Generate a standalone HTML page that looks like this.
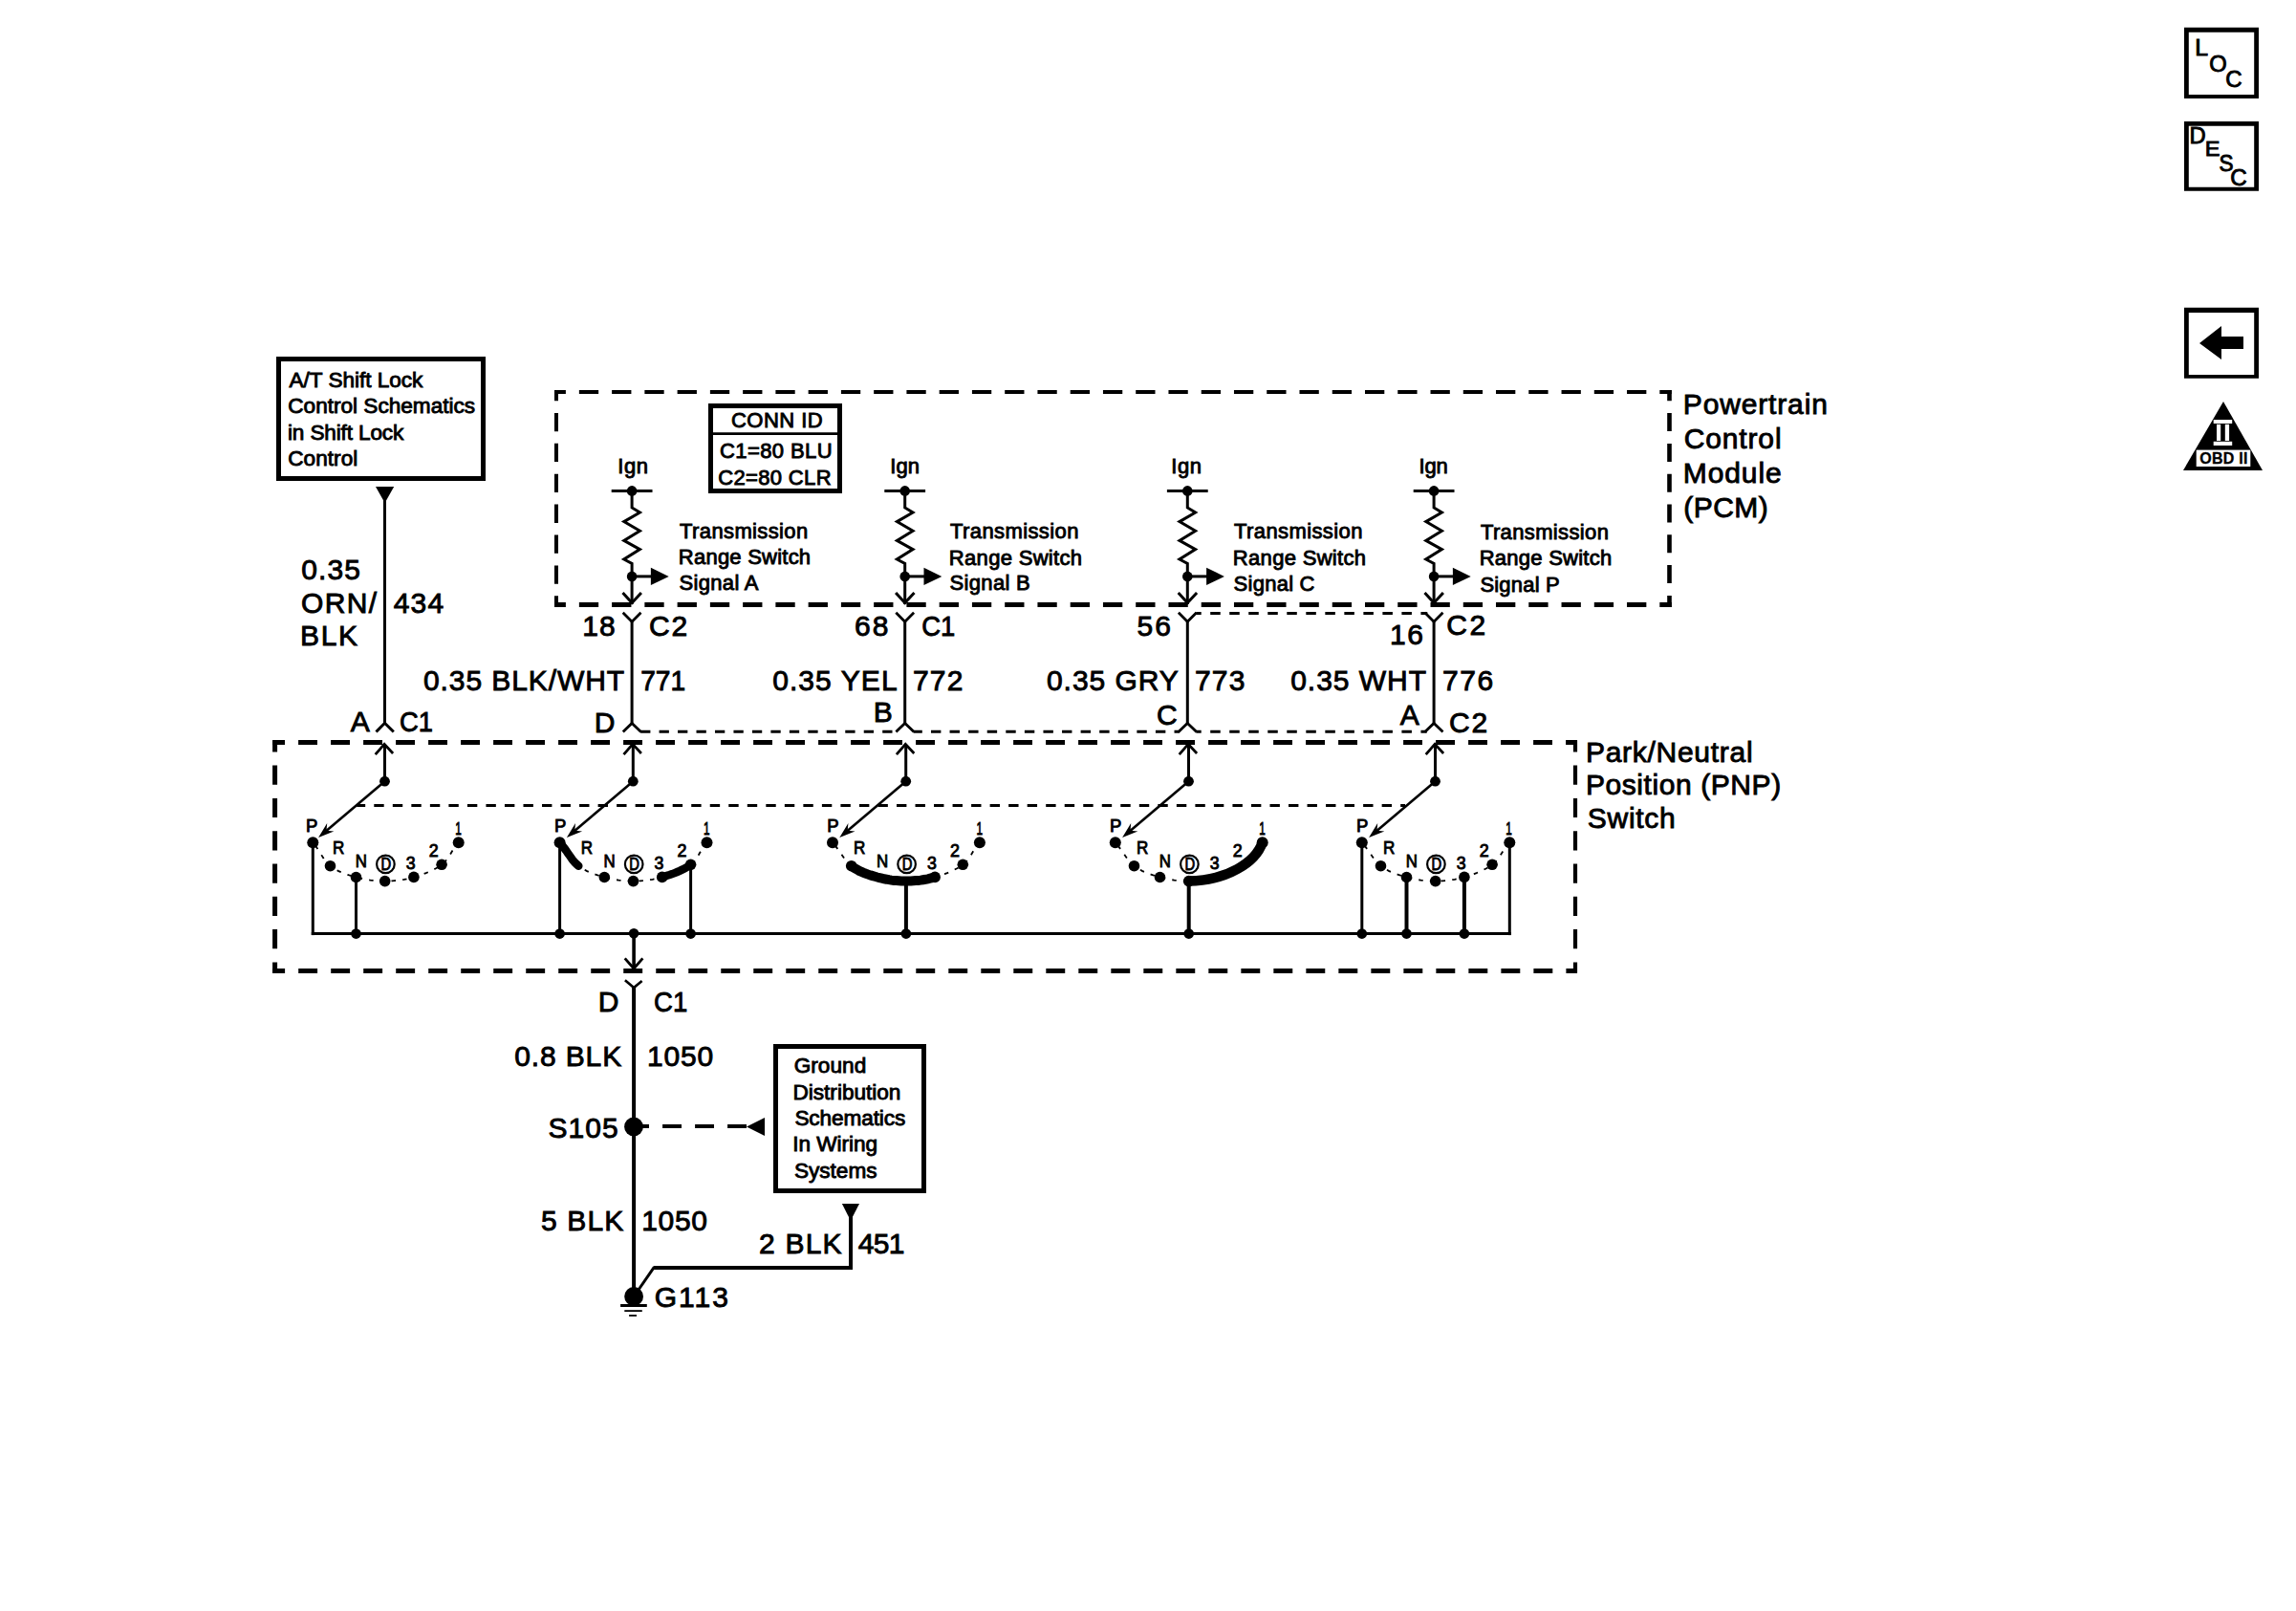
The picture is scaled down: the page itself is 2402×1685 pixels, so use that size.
<!DOCTYPE html>
<html lang="en">
<head>
<meta charset="utf-8">
<title>Park/Neutral Position Switch Schematic</title>
<style>
html,body{margin:0;padding:0;background:#fff;}
body{width:2402px;height:1685px;overflow:hidden;}
svg{display:block;}
svg text{font-family:'Liberation Sans',sans-serif;fill:#000;stroke:#000;stroke-width:0.9;}
</style>
</head>
<body>
<svg width="2402" height="1685" viewBox="0 0 2402 1685" stroke="#000" fill="none">
<path fill="#000" stroke="none" fill-rule="evenodd" d="M2285,28.8H2363V102.9H2285Z M2289.8,33.8H2358.2V99H2289.8Z"/>
<text x="2296.31" y="57.55" font-size="23.5" textLength="13.83" lengthAdjust="spacingAndGlyphs">L</text>
<text x="2311.34" y="75.25" font-size="23.5" textLength="18.44" lengthAdjust="spacingAndGlyphs">O</text>
<text x="2328.23" y="91.15" font-size="23.5" textLength="17.36" lengthAdjust="spacingAndGlyphs">C</text>
<path fill="#000" stroke="none" fill-rule="evenodd" d="M2285,127.1H2363V199.8H2285Z M2289.8,131.8H2358.2V195.7H2289.8Z"/>
<text x="2290.48" y="150.45" font-size="23.5" textLength="17.16" lengthAdjust="spacingAndGlyphs">D</text>
<text x="2306.66" y="163.35" font-size="22" textLength="15.70" lengthAdjust="spacingAndGlyphs">E</text>
<text x="2321.42" y="179.05" font-size="23.5" textLength="15.04" lengthAdjust="spacingAndGlyphs">S</text>
<text x="2333.23" y="194.05" font-size="23.5" textLength="17.47" lengthAdjust="spacingAndGlyphs">C</text>
<path fill="#000" stroke="none" fill-rule="evenodd" d="M2285,321.8H2363V395.8H2285Z M2289.8,326.9H2358.2V391.9H2289.8Z"/>
<polygon points="2301.0,359.0 2324.0,341.0 2324.0,352.0 2347.0,352.0 2347.0,365.0 2324.0,365.0 2324.0,376.0" fill="#000" stroke="none"/>
<polygon points="2326.0,420.0 2367.0,492.0 2284.0,492.0" fill="#000" stroke="none"/>
<g fill="#fff" stroke="none">
<rect x="2315.7" y="439" width="19.5" height="4"/>
<rect x="2315.7" y="461.8" width="19.5" height="4.2"/>
<rect x="2319" y="443.8" width="4.2" height="17.2"/>
<rect x="2327.8" y="443.8" width="4.3" height="17.2"/>
<rect x="2297.7" y="470.6" width="56.6" height="17.4"/>
</g>
<text x="2301.30" y="484.65" font-size="16" font-weight="bold" textLength="50.09" style="stroke-width:0.3">OBD II</text>
<rect x="291.5" y="375.5" width="214" height="125" stroke-width="5"/>
<text x="302.50" y="404.65" font-size="22.6" textLength="139.83">A/T Shift Lock</text>
<text x="301.25" y="432.15" font-size="22.6" textLength="195.84">Control Schematics</text>
<text x="301.00" y="459.65" font-size="22.6" textLength="121.23">in Shift Lock</text>
<text x="301.25" y="487.05" font-size="22.6" textLength="73.04">Control</text>
<polygon points="393.0,509.0 412.2,509.0 402.6,526.0" fill="#000" stroke="none"/>
<line x1="402.5" y1="520" x2="402.5" y2="757" stroke-width="3"/>
<path d="M393.5,765.5 L402.5,756.3 L411.8,765.5" stroke-width="3"/>
<text x="315.35" y="606.35" font-size="30" textLength="61.54">0.35</text>
<text x="315.10" y="640.55" font-size="30" textLength="78.90">ORN/</text>
<text x="314.10" y="674.95" font-size="30" textLength="59.87">BLK</text>
<text x="411.75" y="640.55" font-size="30" textLength="52.36">434</text>
<text x="366.80" y="765.05" font-size="30" textLength="20.72">A</text>
<text x="418.09" y="765.05" font-size="30" textLength="34.92" lengthAdjust="spacingAndGlyphs">C1</text>
<line x1="580" y1="410" x2="1748.8" y2="410" stroke-width="4" stroke-dasharray="20.3 13.956" stroke-dashoffset="8.4"/>
<line x1="580" y1="632.4" x2="1748.8" y2="632.4" stroke-width="5" stroke-dasharray="20.3 13.956" stroke-dashoffset="8.4"/>
<line x1="582" y1="408" x2="582" y2="635" stroke-width="4" stroke-dasharray="19.3 12.6" stroke-dashoffset="8.0"/>
<line x1="1746.5" y1="408" x2="1746.5" y2="635" stroke-width="4.6" stroke-dasharray="19.0 12.8" stroke-dashoffset="7.7"/>
<text x="1760.80" y="433.35" font-size="30" textLength="151.06">Powertrain</text>
<text x="1761.80" y="468.95" font-size="30" textLength="101.77">Control</text>
<text x="1760.80" y="505.15" font-size="30" textLength="102.91">Module</text>
<text x="1761.30" y="541.35" font-size="30" textLength="88.51">(PCM)</text>
<rect x="743.5" y="424.5" width="135" height="89" stroke-width="5"/>
<line x1="743" y1="453.6" x2="879" y2="453.6" stroke-width="2.8"/>
<text x="764.95" y="447.25" font-size="22" textLength="95.69">CONN ID</text>
<text x="752.95" y="479.05" font-size="22" textLength="117.61">C1=80 BLU</text>
<text x="751.25" y="506.65" font-size="22" textLength="118.28">C2=80 CLR</text>
<text x="646.30" y="495.25" font-size="22" textLength="31.64">Ign</text>
<line x1="639.7" y1="513.4" x2="682.5" y2="513.4" stroke-width="3"/>
<circle cx="661.1" cy="513.4" r="5.3" fill="#000" stroke="none"/>
<path d="M661.1,513 V531 L669.4,536 L652.8000000000001,545.6 L669.4,555.2 L652.8000000000001,565.4 L669.4,574.6 L652.8000000000001,585 L661.1,589.3 V632" stroke-width="3" stroke-linejoin="miter"/>
<circle cx="661.1" cy="602.9" r="5.3" fill="#000" stroke="none"/>
<line x1="661.1" y1="602.9" x2="682.1" y2="602.9" stroke-width="3"/>
<polygon points="680.9,593.7 680.9,612.0 699.7,602.9" fill="#000" stroke="none"/>
<path d="M651.5,620 L661.1,630.5 L670.9,620" stroke-width="3"/>
<text x="711.10" y="563.35" font-size="22" textLength="134.10">Transmission</text>
<text x="709.85" y="590.45" font-size="22" textLength="138.25">Range Switch</text>
<text x="710.60" y="617.25" font-size="22" textLength="82.88">Signal A</text>
<text x="931.20" y="495.25" font-size="22" textLength="30.84">Ign</text>
<line x1="925.3000000000001" y1="513.4" x2="968.1" y2="513.4" stroke-width="3"/>
<circle cx="946.7" cy="513.4" r="5.3" fill="#000" stroke="none"/>
<path d="M946.7,513 V531 L955.0,536 L938.4000000000001,545.6 L955.0,555.2 L938.4000000000001,565.4 L955.0,574.6 L938.4000000000001,585 L946.7,589.3 V632" stroke-width="3" stroke-linejoin="miter"/>
<circle cx="946.7" cy="602.9" r="5.3" fill="#000" stroke="none"/>
<line x1="946.7" y1="602.9" x2="967.7" y2="602.9" stroke-width="3"/>
<polygon points="966.5,593.7 966.5,612.0 985.3,602.9" fill="#000" stroke="none"/>
<path d="M937.1,620 L946.7,630.5 L956.5,620" stroke-width="3"/>
<text x="994.10" y="563.30" font-size="22" textLength="134.30">Transmission</text>
<text x="992.85" y="590.55" font-size="22" textLength="139.15">Range Switch</text>
<text x="993.60" y="617.45" font-size="22" textLength="84.20">Signal B</text>
<text x="1225.30" y="495.25" font-size="22" textLength="31.74">Ign</text>
<line x1="1220.8999999999999" y1="513.4" x2="1263.7" y2="513.4" stroke-width="3"/>
<circle cx="1242.3" cy="513.4" r="5.3" fill="#000" stroke="none"/>
<path d="M1242.3,513 V531 L1250.6,536 L1234.0,545.6 L1250.6,555.2 L1234.0,565.4 L1250.6,574.6 L1234.0,585 L1242.3,589.3 V632" stroke-width="3" stroke-linejoin="miter"/>
<circle cx="1242.3" cy="602.9" r="5.3" fill="#000" stroke="none"/>
<line x1="1242.3" y1="602.9" x2="1263.3" y2="602.9" stroke-width="3"/>
<polygon points="1262.1,593.7 1262.1,612.0 1280.9,602.9" fill="#000" stroke="none"/>
<path d="M1232.7,620 L1242.3,630.5 L1252.1,620" stroke-width="3"/>
<text x="1291.10" y="563.25" font-size="22" textLength="134.30">Transmission</text>
<text x="1289.85" y="591.05" font-size="22" textLength="139.15">Range Switch</text>
<text x="1290.60" y="617.85" font-size="22" textLength="84.91">Signal C</text>
<text x="1484.40" y="495.25" font-size="22" textLength="30.44">Ign</text>
<line x1="1478.6999999999998" y1="513.4" x2="1521.5" y2="513.4" stroke-width="3"/>
<circle cx="1500.1" cy="513.4" r="5.3" fill="#000" stroke="none"/>
<path d="M1500.1,513 V531 L1508.3999999999999,536 L1491.8,545.6 L1508.3999999999999,555.2 L1491.8,565.4 L1508.3999999999999,574.6 L1491.8,585 L1500.1,589.3 V632" stroke-width="3" stroke-linejoin="miter"/>
<circle cx="1500.1" cy="602.9" r="5.3" fill="#000" stroke="none"/>
<line x1="1500.1" y1="602.9" x2="1521.1" y2="602.9" stroke-width="3"/>
<polygon points="1519.9,593.7 1519.9,612.0 1538.7,602.9" fill="#000" stroke="none"/>
<path d="M1490.5,620 L1500.1,630.5 L1509.8999999999999,620" stroke-width="3"/>
<text x="1548.90" y="563.65" font-size="22" textLength="134.00">Transmission</text>
<text x="1547.65" y="591.05" font-size="22" textLength="138.55">Range Switch</text>
<text x="1548.40" y="618.85" font-size="22" textLength="83.30">Signal P</text>
<path d="M651.7,640.8 L661.1,650.1999999999999 L670.5,640.8" stroke-width="2.8"/>
<line x1="661.1" y1="649.5" x2="661.1" y2="757" stroke-width="3"/>
<path d="M651.8000000000001,765.4 L661.1,756.4 L670.5,765.4" stroke-width="2.8"/>
<path d="M937.3000000000001,640.8 L946.7,650.1999999999999 L956.1,640.8" stroke-width="2.8"/>
<line x1="946.7" y1="649.5" x2="946.7" y2="757" stroke-width="3"/>
<path d="M937.4000000000001,765.4 L946.7,756.4 L956.1,765.4" stroke-width="2.8"/>
<path d="M1232.8999999999999,640.8 L1242.3,650.1999999999999 L1251.7,640.8" stroke-width="2.8"/>
<line x1="1242.3" y1="649.5" x2="1242.3" y2="757" stroke-width="3"/>
<path d="M1233.0,765.4 L1242.3,756.4 L1251.7,765.4" stroke-width="2.8"/>
<path d="M1490.6999999999998,640.8 L1500.1,650.1999999999999 L1509.5,640.8" stroke-width="2.8"/>
<line x1="1500.1" y1="649.5" x2="1500.1" y2="757" stroke-width="3"/>
<path d="M1490.8,765.4 L1500.1,756.4 L1509.5,765.4" stroke-width="2.8"/>
<line x1="670.1" y1="765.3" x2="937.7" y2="765.3" stroke-width="3" stroke-dasharray="10.3 9.17" stroke-dashoffset="0"/>
<line x1="955.7" y1="765.3" x2="1234" y2="765.3" stroke-width="3" stroke-dasharray="10.4 9.18" stroke-dashoffset="1.3"/>
<line x1="1251.3" y1="765.3" x2="1492.7" y2="765.3" stroke-width="3" stroke-dasharray="10.5 9.52" stroke-dashoffset="5.1"/>
<line x1="1251.3" y1="641.4" x2="1493.3" y2="641.4" stroke-width="3" stroke-dasharray="10.5 9.52" stroke-dashoffset="5.1"/>
<text x="609.25" y="665.25" font-size="30" textLength="34.33">18</text>
<text x="679.00" y="665.25" font-size="30" textLength="40.21">C2</text>
<text x="893.90" y="665.25" font-size="30" textLength="35.48">68</text>
<text x="964.19" y="665.25" font-size="30" textLength="35.03" lengthAdjust="spacingAndGlyphs">C1</text>
<text x="1189.45" y="665.25" font-size="30" textLength="35.52">56</text>
<text x="1454.05" y="674.15" font-size="30" textLength="34.92">16</text>
<text x="1513.20" y="664.35" font-size="30" textLength="41.11">C2</text>
<text x="442.95" y="722.35" font-size="30" textLength="210.18">0.35 BLK/WHT</text>
<text x="670.16" y="722.35" font-size="30" textLength="47.04" lengthAdjust="spacingAndGlyphs">771</text>
<text x="808.15" y="722.35" font-size="30" textLength="130.49">0.35 YEL</text>
<text x="954.90" y="722.35" font-size="30" textLength="52.46">772</text>
<text x="1094.95" y="722.35" font-size="30" textLength="137.90">0.35 GRY</text>
<text x="1249.90" y="722.35" font-size="30" textLength="52.61">773</text>
<text x="1350.15" y="722.35" font-size="30" textLength="141.93">0.35 WHT</text>
<text x="1509.10" y="722.35" font-size="30" textLength="53.01">776</text>
<text x="621.80" y="766.15" font-size="30" textLength="23.02">D</text>
<text x="913.80" y="755.45" font-size="30" textLength="21.17">B</text>
<text x="1210.10" y="757.95" font-size="30" textLength="22.77">C</text>
<text x="1464.70" y="758.05" font-size="30" textLength="20.72">A</text>
<text x="1516.10" y="765.55" font-size="30" textLength="40.01">C2</text>
<line x1="285.2" y1="776.6" x2="1650" y2="776.6" stroke-width="5" stroke-dasharray="19.9 14.1" stroke-dashoffset="7.1"/>
<line x1="285.2" y1="1015.4" x2="1650" y2="1015.4" stroke-width="5" stroke-dasharray="19.9 14.105" stroke-dashoffset="7.0"/>
<line x1="287.6" y1="774.2" x2="287.6" y2="1017.8" stroke-width="5" stroke-dasharray="20.2 14.1" stroke-dashoffset="7.9"/>
<line x1="1648" y1="774.2" x2="1648" y2="1017.8" stroke-width="4.2" stroke-dasharray="20.2 14.1" stroke-dashoffset="7.9"/>
<text x="1658.90" y="797.05" font-size="30" textLength="174.68">Park/Neutral</text>
<text x="1658.90" y="831.45" font-size="30" textLength="204.28">Position (PNP)</text>
<text x="1660.85" y="865.65" font-size="30" textLength="91.86">Switch</text>
<line x1="402.5" y1="779" x2="402.5" y2="817" stroke-width="3"/>
<path d="M392.7,789.2 L402.1,778.4 L411.1,788" stroke-width="2.8"/>
<circle cx="402.5" cy="817.2" r="5.4" fill="#000" stroke="none"/>
<line x1="402.5" y1="817.2" x2="339.6" y2="870.4" stroke-width="2.6"/>
<polygon points="333.1,875.9 349.3,869.5 341.5,868.8 342.2,861.1" fill="#000" stroke="none"/>
<path d="M327.3,881.3 L329.3,883.7 L331.0,886.1 L332.6,888.4 L334.1,890.6 L335.4,892.8 L336.7,894.9 L338.0,896.9 L339.3,898.9 L340.7,900.7 L342.1,902.5 L343.7,904.1 L345.5,905.7 L347.4,907.1 L349.5,908.5 L351.6,909.7 L353.7,910.9 L356.0,911.9 L358.2,912.9 L360.6,913.8 L362.9,914.6 L365.3,915.4 L367.7,916.1 L370.1,916.8 L372.5,917.5 L374.9,918.1 L377.3,918.7 L379.8,919.3 L382.3,919.7 L384.9,920.2 L387.4,920.6 L390.0,920.9 L392.5,921.1 L395.1,921.3 L397.6,921.5 L400.2,921.6 L402.7,921.6 L405.2,921.6 L407.7,921.5 L410.3,921.3 L412.8,921.1 L415.3,920.9 L417.9,920.6 L420.4,920.2 L422.9,919.8 L425.4,919.3 L427.9,918.7 L430.4,918.1 L432.9,917.4 L435.4,916.7 L438.0,915.8 L440.5,915.0 L443.1,914.1 L445.7,913.1 L448.3,912.0 L450.8,910.9 L453.3,909.7 L455.6,908.5 L457.9,907.2 L460.1,905.8 L462.1,904.3 L463.9,902.8 L465.5,901.1 L467.0,899.5 L468.3,897.7 L469.5,895.9 L470.8,894.0 L472.0,892.0 L473.2,890.0 L474.6,887.9 L476.1,885.7 L477.8,883.5 L479.7,881.2" stroke-width="1.8" stroke-dasharray="4.5 7.2" stroke-dashoffset="-4"/>
<circle cx="327.3" cy="881.3" r="6.0" fill="#000" stroke="none"/>
<circle cx="345.5" cy="905.7" r="5.8" fill="#000" stroke="none"/>
<circle cx="372.5" cy="917.5" r="5.8" fill="#000" stroke="none"/>
<circle cx="402.7" cy="921.6" r="5.8" fill="#000" stroke="none"/>
<circle cx="432.9" cy="917.4" r="5.8" fill="#000" stroke="none"/>
<circle cx="462.1" cy="904.3" r="5.8" fill="#000" stroke="none"/>
<circle cx="479.7" cy="881.2" r="6.0" fill="#000" stroke="none"/>
<text x="320.10" y="869.55" font-size="18.6" textLength="12.35" lengthAdjust="spacingAndGlyphs">P</text>
<text x="347.89" y="893.35" font-size="18.6" textLength="12.29" lengthAdjust="spacingAndGlyphs">R</text>
<text x="371.79" y="907.15" font-size="18.6" textLength="12.18" lengthAdjust="spacingAndGlyphs">N</text>
<circle cx="403.4" cy="903.9" r="9.3" stroke-width="2.2"/>
<text x="398.46" y="910.05" font-size="17.5" textLength="10.67" lengthAdjust="spacingAndGlyphs">D</text>
<text x="424.76" y="909.05" font-size="18.6" textLength="9.87" lengthAdjust="spacingAndGlyphs">3</text>
<text x="448.72" y="895.95" font-size="18.6" textLength="9.95" lengthAdjust="spacingAndGlyphs">2</text>
<text x="476.27" y="872.85" font-size="18.6" textLength="6.55" lengthAdjust="spacingAndGlyphs">1</text>
<line x1="327.3" y1="881.3" x2="327.3" y2="978.1" stroke-width="3"/>
<line x1="372.5" y1="917.5" x2="372.5" y2="976.6" stroke-width="3"/>
<circle cx="372.5" cy="976.6" r="5.3" fill="#000" stroke="none"/>
<line x1="662.3" y1="779" x2="662.3" y2="817" stroke-width="3"/>
<path d="M652.5,789.2 L661.9,778.4 L670.9,788" stroke-width="2.8"/>
<circle cx="662.3" cy="817.2" r="5.4" fill="#000" stroke="none"/>
<line x1="662.3" y1="817.2" x2="599.4" y2="870.4" stroke-width="2.6"/>
<polygon points="592.9,875.9 609.1,869.5 601.3,868.8 602.0,861.1" fill="#000" stroke="none"/>
<path d="M585.6,881.3 L587.7,883.7 L589.6,886.1 L591.3,888.4 L592.9,890.6 L594.4,892.8 L595.9,894.9 L597.3,896.9 L598.7,898.9 L600.2,900.7 L601.8,902.5 L603.4,904.1 L605.3,905.7 L607.3,907.1 L609.3,908.5 L611.5,909.7 L613.6,910.9 L615.9,911.9 L618.1,912.9 L620.5,913.8 L622.8,914.6 L625.2,915.4 L627.5,916.1 L629.9,916.8 L632.3,917.5 L634.7,918.1 L637.1,918.7 L639.6,919.3 L642.1,919.7 L644.7,920.2 L647.2,920.6 L649.8,920.9 L652.3,921.1 L654.9,921.3 L657.4,921.5 L660.0,921.6 L662.5,921.6 L665.0,921.6 L667.5,921.5 L670.1,921.3 L672.6,921.1 L675.1,920.9 L677.6,920.6 L680.1,920.2 L682.7,919.8 L685.2,919.3 L687.7,918.7 L690.2,918.1 L692.7,917.4 L695.2,916.7 L697.9,915.8 L700.5,915.0 L703.2,914.1 L705.8,913.1 L708.5,912.0 L711.1,910.9 L713.6,909.7 L716.0,908.5 L718.4,907.2 L720.6,905.8 L722.6,904.3 L724.4,902.8 L726.0,901.1 L727.4,899.5 L728.7,897.7 L729.9,895.9 L731.0,894.0 L732.1,892.0 L733.3,890.0 L734.6,887.9 L736.0,885.7 L737.6,883.5 L739.5,881.2" stroke-width="1.8" stroke-dasharray="4.5 7.2" stroke-dashoffset="-4"/>
<circle cx="585.6" cy="881.3" r="6.0" fill="#000" stroke="none"/>
<circle cx="632.3" cy="917.5" r="5.8" fill="#000" stroke="none"/>
<circle cx="662.5" cy="921.6" r="5.8" fill="#000" stroke="none"/>
<circle cx="692.7" cy="917.4" r="5.8" fill="#000" stroke="none"/>
<circle cx="722.6" cy="904.3" r="5.8" fill="#000" stroke="none"/>
<circle cx="739.5" cy="881.2" r="6.0" fill="#000" stroke="none"/>
<path d="M585.6,881.3 L587.7,883.7 L589.6,886.1 L591.3,888.4 L592.9,890.6 L594.4,892.8 L595.9,894.9 L597.3,896.9 L598.7,898.9 L600.2,900.7 L601.8,902.5 L603.4,904.1 L605.3,905.7" stroke-width="8.5" stroke-linecap="round"/>
<path d="M692.7,917.4 L695.2,916.7 L697.9,915.8 L700.5,915.0 L703.2,914.1 L705.8,913.1 L708.5,912.0 L711.1,910.9 L713.6,909.7 L716.0,908.5 L718.4,907.2 L720.6,905.8 L722.6,904.3" stroke-width="8.5" stroke-linecap="round"/>
<text x="579.90" y="869.55" font-size="18.6" textLength="12.35" lengthAdjust="spacingAndGlyphs">P</text>
<text x="607.69" y="893.35" font-size="18.6" textLength="12.29" lengthAdjust="spacingAndGlyphs">R</text>
<text x="631.59" y="907.15" font-size="18.6" textLength="12.18" lengthAdjust="spacingAndGlyphs">N</text>
<circle cx="663.2" cy="903.9" r="9.3" stroke-width="2.2"/>
<text x="658.26" y="910.05" font-size="17.5" textLength="10.67" lengthAdjust="spacingAndGlyphs">D</text>
<text x="684.56" y="909.05" font-size="18.6" textLength="9.87" lengthAdjust="spacingAndGlyphs">3</text>
<text x="708.52" y="895.95" font-size="18.6" textLength="9.95" lengthAdjust="spacingAndGlyphs">2</text>
<text x="736.07" y="872.85" font-size="18.6" textLength="6.55" lengthAdjust="spacingAndGlyphs">1</text>
<line x1="585.6" y1="881.3" x2="585.6" y2="976.6" stroke-width="3"/>
<circle cx="585.6" cy="976.6" r="5.3" fill="#000" stroke="none"/>
<line x1="722.6" y1="904.3" x2="722.6" y2="976.6" stroke-width="3"/>
<circle cx="722.6" cy="976.6" r="5.3" fill="#000" stroke="none"/>
<line x1="947.7" y1="779" x2="947.7" y2="817" stroke-width="3"/>
<path d="M937.9000000000001,789.2 L947.3000000000001,778.4 L956.3000000000001,788" stroke-width="2.8"/>
<circle cx="947.7" cy="817.2" r="5.4" fill="#000" stroke="none"/>
<line x1="947.7" y1="817.2" x2="884.8" y2="870.4" stroke-width="2.6"/>
<polygon points="878.3,875.9 894.5,869.5 886.7,868.8 887.4,861.1" fill="#000" stroke="none"/>
<path d="M871.0,881.3 L873.1,883.7 L875.0,886.1 L876.7,888.4 L878.3,890.6 L879.8,892.8 L881.3,894.9 L882.7,896.9 L884.1,898.9 L885.6,900.7 L887.2,902.5 L888.8,904.1 L890.7,905.7 L892.7,907.1 L894.7,908.5 L896.9,909.7 L899.0,910.9 L901.3,911.9 L903.5,912.9 L905.9,913.8 L908.2,914.6 L910.6,915.4 L912.9,916.1 L915.3,916.8 L917.7,917.5 L920.1,918.1 L922.5,918.7 L925.0,919.3 L927.5,919.7 L930.1,920.2 L932.6,920.6 L935.2,920.9 L937.7,921.1 L940.3,921.3 L942.8,921.5 L945.4,921.6 L947.9,921.6 L950.4,921.6 L952.9,921.5 L955.5,921.3 L958.0,921.1 L960.5,920.9 L963.1,920.6 L965.6,920.2 L968.1,919.8 L970.6,919.3 L973.1,918.7 L975.6,918.1 L978.1,917.4 L980.6,916.7 L983.2,915.8 L985.7,915.0 L988.3,914.1 L990.9,913.1 L993.5,912.0 L996.0,910.9 L998.5,909.7 L1000.8,908.5 L1003.1,907.2 L1005.3,905.8 L1007.3,904.3 L1009.1,902.8 L1010.7,901.1 L1012.2,899.5 L1013.5,897.7 L1014.7,895.9 L1016.0,894.0 L1017.2,892.0 L1018.4,890.0 L1019.8,887.9 L1021.3,885.7 L1023.0,883.5 L1024.9,881.2" stroke-width="1.8" stroke-dasharray="4.5 7.2" stroke-dashoffset="-4"/>
<circle cx="871.0" cy="881.3" r="6.0" fill="#000" stroke="none"/>
<circle cx="890.7" cy="905.7" r="5.8" fill="#000" stroke="none"/>
<circle cx="978.1" cy="917.4" r="5.8" fill="#000" stroke="none"/>
<circle cx="1007.3" cy="904.3" r="5.8" fill="#000" stroke="none"/>
<circle cx="1024.9" cy="881.2" r="6.0" fill="#000" stroke="none"/>
<path d="M890.7,905.7 L892.7,907.1 L894.7,908.5 L896.9,909.7 L899.0,910.9 L901.3,911.9 L903.5,912.9 L905.9,913.8 L908.2,914.6 L910.6,915.4 L912.9,916.1 L915.3,916.8 L917.7,917.5 L920.1,918.1 L922.5,918.7 L925.0,919.3 L927.5,919.7 L930.1,920.2 L932.6,920.6 L935.2,920.9 L937.7,921.1 L940.3,921.3 L942.8,921.5 L945.4,921.6 L947.9,921.6 L950.4,921.6 L952.9,921.5 L955.5,921.3 L958.0,921.1 L960.5,920.9 L963.1,920.6 L965.6,920.2 L968.1,919.8 L970.6,919.3 L973.1,918.7 L975.6,918.1 L978.1,917.4" stroke-width="10" stroke-linecap="round"/>
<text x="865.30" y="869.55" font-size="18.6" textLength="12.35" lengthAdjust="spacingAndGlyphs">P</text>
<text x="893.09" y="893.35" font-size="18.6" textLength="12.29" lengthAdjust="spacingAndGlyphs">R</text>
<text x="916.99" y="907.15" font-size="18.6" textLength="12.18" lengthAdjust="spacingAndGlyphs">N</text>
<circle cx="948.6" cy="903.9" r="9.3" stroke-width="2.2"/>
<text x="943.66" y="910.05" font-size="17.5" textLength="10.67" lengthAdjust="spacingAndGlyphs">D</text>
<text x="969.96" y="909.05" font-size="18.6" textLength="9.87" lengthAdjust="spacingAndGlyphs">3</text>
<text x="993.92" y="895.95" font-size="18.6" textLength="9.95" lengthAdjust="spacingAndGlyphs">2</text>
<text x="1021.47" y="872.85" font-size="18.6" textLength="6.55" lengthAdjust="spacingAndGlyphs">1</text>
<line x1="947.9" y1="921.6" x2="947.9" y2="976.6" stroke-width="4"/>
<circle cx="947.9" cy="976.6" r="5.3" fill="#000" stroke="none"/>
<line x1="1243.5" y1="779" x2="1243.5" y2="817" stroke-width="3"/>
<path d="M1233.7,789.2 L1243.1,778.4 L1252.1,788" stroke-width="2.8"/>
<circle cx="1243.5" cy="817.2" r="5.4" fill="#000" stroke="none"/>
<line x1="1243.5" y1="817.2" x2="1180.6" y2="870.4" stroke-width="2.6"/>
<polygon points="1174.1,875.9 1190.3,869.5 1182.5,868.8 1183.2,861.1" fill="#000" stroke="none"/>
<path d="M1166.8,881.3 L1168.9,883.7 L1170.8,886.1 L1172.5,888.4 L1174.1,890.6 L1175.6,892.8 L1177.1,894.9 L1178.5,896.9 L1179.9,898.9 L1181.4,900.7 L1183.0,902.5 L1184.6,904.1 L1186.5,905.7 L1188.5,907.1 L1190.5,908.5 L1192.7,909.7 L1194.8,910.9 L1197.1,911.9 L1199.3,912.9 L1201.7,913.8 L1204.0,914.6 L1206.4,915.4 L1208.7,916.1 L1211.1,916.8 L1213.5,917.5 L1215.9,918.1 L1218.3,918.7 L1220.8,919.3 L1223.3,919.7 L1225.9,920.2 L1228.4,920.6 L1231.0,920.9 L1233.5,921.1 L1236.1,921.3 L1238.6,921.5 L1241.2,921.6 L1243.7,921.6 L1246.2,921.6 L1248.7,921.5 L1251.3,921.3 L1253.8,921.1 L1256.3,920.9 L1258.9,920.6 L1261.4,920.2 L1263.9,919.8 L1266.4,919.3 L1268.9,918.7 L1271.4,918.1 L1273.9,917.4 L1276.4,916.7 L1279.0,915.8 L1281.5,915.0 L1284.1,914.1 L1286.7,913.1 L1289.3,912.0 L1291.8,910.9 L1294.3,909.7 L1296.6,908.5 L1298.9,907.2 L1301.1,905.8 L1303.1,904.3 L1304.9,902.8 L1306.5,901.1 L1308.0,899.5 L1309.3,897.7 L1310.5,895.9 L1311.8,894.0 L1313.0,892.0 L1314.2,890.0 L1315.6,887.9 L1317.1,885.7 L1318.8,883.5 L1320.7,881.2" stroke-width="1.8" stroke-dasharray="4.5 7.2" stroke-dashoffset="-4"/>
<circle cx="1166.8" cy="881.3" r="6.0" fill="#000" stroke="none"/>
<circle cx="1186.5" cy="905.7" r="5.8" fill="#000" stroke="none"/>
<circle cx="1213.5" cy="917.5" r="5.8" fill="#000" stroke="none"/>
<circle cx="1243.7" cy="921.6" r="5.8" fill="#000" stroke="none"/>
<circle cx="1320.7" cy="881.2" r="6.0" fill="#000" stroke="none"/>
<path d="M1243.7,921.6 C1283.5,921 1313.5,902 1320.7,881.2" stroke-width="10.5" stroke-linecap="round"/>
<text x="1161.10" y="869.55" font-size="18.6" textLength="12.35" lengthAdjust="spacingAndGlyphs">P</text>
<text x="1188.89" y="893.35" font-size="18.6" textLength="12.29" lengthAdjust="spacingAndGlyphs">R</text>
<text x="1212.79" y="907.15" font-size="18.6" textLength="12.18" lengthAdjust="spacingAndGlyphs">N</text>
<circle cx="1244.4" cy="903.9" r="9.3" stroke-width="2.2"/>
<text x="1239.46" y="910.05" font-size="17.5" textLength="10.67" lengthAdjust="spacingAndGlyphs">D</text>
<text x="1265.76" y="909.05" font-size="18.6" textLength="9.87" lengthAdjust="spacingAndGlyphs">3</text>
<text x="1289.72" y="895.95" font-size="18.6" textLength="9.95" lengthAdjust="spacingAndGlyphs">2</text>
<text x="1317.27" y="872.85" font-size="18.6" textLength="6.55" lengthAdjust="spacingAndGlyphs">1</text>
<line x1="1243.7" y1="921.6" x2="1243.7" y2="976.6" stroke-width="4"/>
<circle cx="1243.7" cy="976.6" r="5.3" fill="#000" stroke="none"/>
<line x1="1501.5" y1="779" x2="1501.5" y2="817" stroke-width="3"/>
<path d="M1491.7,789.2 L1501.1,778.4 L1510.1,788" stroke-width="2.8"/>
<circle cx="1501.5" cy="817.2" r="5.4" fill="#000" stroke="none"/>
<line x1="1501.5" y1="817.2" x2="1438.6" y2="870.4" stroke-width="2.6"/>
<polygon points="1432.1,875.9 1448.3,869.5 1440.5,868.8 1441.2,861.1" fill="#000" stroke="none"/>
<path d="M1424.8,881.3 L1426.9,883.7 L1428.8,886.1 L1430.5,888.4 L1432.1,890.6 L1433.6,892.8 L1435.1,894.9 L1436.5,896.9 L1437.9,898.9 L1439.4,900.7 L1441.0,902.5 L1442.6,904.1 L1444.5,905.7 L1446.5,907.1 L1448.5,908.5 L1450.7,909.7 L1452.8,910.9 L1455.1,911.9 L1457.3,912.9 L1459.7,913.8 L1462.0,914.6 L1464.4,915.4 L1466.7,916.1 L1469.1,916.8 L1471.5,917.5 L1473.9,918.1 L1476.3,918.7 L1478.8,919.3 L1481.3,919.7 L1483.9,920.2 L1486.4,920.6 L1489.0,920.9 L1491.5,921.1 L1494.1,921.3 L1496.6,921.5 L1499.2,921.6 L1501.7,921.6 L1504.2,921.6 L1506.7,921.5 L1509.3,921.3 L1511.8,921.1 L1514.3,920.9 L1516.9,920.6 L1519.4,920.2 L1521.9,919.8 L1524.4,919.3 L1526.9,918.7 L1529.4,918.1 L1531.9,917.4 L1534.4,916.7 L1537.0,915.8 L1539.5,915.0 L1542.1,914.1 L1544.7,913.1 L1547.2,912.0 L1549.8,910.9 L1552.2,909.7 L1554.6,908.5 L1556.9,907.2 L1559.1,905.8 L1561.1,904.3 L1563.0,902.8 L1564.6,901.1 L1566.1,899.5 L1567.5,897.7 L1568.8,895.9 L1570.0,894.0 L1571.3,892.0 L1572.6,890.0 L1574.0,887.9 L1575.6,885.7 L1577.3,883.5 L1579.3,881.2" stroke-width="1.8" stroke-dasharray="4.5 7.2" stroke-dashoffset="-4"/>
<circle cx="1424.8" cy="881.3" r="6.0" fill="#000" stroke="none"/>
<circle cx="1444.5" cy="905.7" r="5.8" fill="#000" stroke="none"/>
<circle cx="1471.5" cy="917.5" r="5.8" fill="#000" stroke="none"/>
<circle cx="1501.7" cy="921.6" r="5.8" fill="#000" stroke="none"/>
<circle cx="1531.9" cy="917.4" r="5.8" fill="#000" stroke="none"/>
<circle cx="1561.1" cy="904.3" r="5.8" fill="#000" stroke="none"/>
<circle cx="1579.3" cy="881.2" r="6.0" fill="#000" stroke="none"/>
<text x="1419.10" y="869.55" font-size="18.6" textLength="12.35" lengthAdjust="spacingAndGlyphs">P</text>
<text x="1446.89" y="893.35" font-size="18.6" textLength="12.29" lengthAdjust="spacingAndGlyphs">R</text>
<text x="1470.79" y="907.15" font-size="18.6" textLength="12.18" lengthAdjust="spacingAndGlyphs">N</text>
<circle cx="1502.4" cy="903.9" r="9.3" stroke-width="2.2"/>
<text x="1497.46" y="910.05" font-size="17.5" textLength="10.67" lengthAdjust="spacingAndGlyphs">D</text>
<text x="1523.76" y="909.05" font-size="18.6" textLength="9.87" lengthAdjust="spacingAndGlyphs">3</text>
<text x="1547.72" y="895.95" font-size="18.6" textLength="9.95" lengthAdjust="spacingAndGlyphs">2</text>
<text x="1575.27" y="872.85" font-size="18.6" textLength="6.55" lengthAdjust="spacingAndGlyphs">1</text>
<line x1="1424.8" y1="881.3" x2="1424.8" y2="976.6" stroke-width="3"/>
<circle cx="1424.8" cy="976.6" r="5.3" fill="#000" stroke="none"/>
<line x1="1471.5" y1="917.5" x2="1471.5" y2="976.6" stroke-width="4"/>
<circle cx="1471.5" cy="976.6" r="5.3" fill="#000" stroke="none"/>
<line x1="1531.9" y1="917.4" x2="1531.9" y2="976.6" stroke-width="4"/>
<circle cx="1531.9" cy="976.6" r="5.3" fill="#000" stroke="none"/>
<line x1="1579.3" y1="881.2" x2="1579.3" y2="978.1" stroke-width="3"/>
<line x1="373.2" y1="842.5" x2="1470" y2="842.5" stroke-width="3" stroke-dasharray="10.4 9.125" stroke-dashoffset="1.43"/>
<line x1="325.8" y1="976.6" x2="1581" y2="976.6" stroke-width="3"/>
<circle cx="663.1" cy="976.2" r="5.3" fill="#000" stroke="none"/>
<line x1="663.1" y1="976" x2="663.1" y2="1013" stroke-width="3.6"/>
<path d="M653.7,1002.3 L663.1,1013 L672.4,1002.3" stroke-width="2.8"/>
<path d="M653.9,1025.2 L663.1,1033.1 L671.6,1025.9" stroke-width="2.6"/>
<line x1="663.1" y1="1032.5" x2="663.1" y2="1356" stroke-width="4"/>
<text x="625.80" y="1058.35" font-size="30" textLength="23.22">D</text>
<text x="684.08" y="1058.35" font-size="30" textLength="35.13" lengthAdjust="spacingAndGlyphs">C1</text>
<text x="538.15" y="1115.15" font-size="30" textLength="112.05">0.8 BLK</text>
<text x="677.05" y="1115.15" font-size="30" textLength="69.10">1050</text>
<text x="573.45" y="1189.85" font-size="30" textLength="73.18">S105</text>
<circle cx="663" cy="1178.4" r="9.9" fill="#000" stroke="none"/>
<line x1="663" y1="1178" x2="782" y2="1178" stroke-width="4.2" stroke-dasharray="19.9 14.1" stroke-dashoffset="3.9"/>
<polygon points="781.0,1178.4 800.0,1169.0 800.0,1188.0" fill="#000" stroke="none"/>
<rect x="811.5" y="1094.5" width="155" height="151" stroke-width="5"/>
<text x="830.65" y="1122.25" font-size="22.6" textLength="75.62">Ground</text>
<text x="829.50" y="1149.95" font-size="22.6" textLength="112.92">Distribution</text>
<text x="831.40" y="1177.35" font-size="22.6" textLength="115.78">Schematics</text>
<text x="829.25" y="1204.15" font-size="22.6" textLength="88.84">In Wiring</text>
<text x="830.90" y="1231.75" font-size="22.6" textLength="86.68">Systems</text>
<text x="566.05" y="1287.15" font-size="30" textLength="86.33">5 BLK</text>
<text x="671.15" y="1287.15" font-size="30" textLength="68.90">1050</text>
<polygon points="880.9,1259.0 899.0,1259.0 889.9,1276.8" fill="#000" stroke="none"/>
<path d="M890,1272 V1326 H684" stroke-width="4" stroke-linejoin="miter"/>
<line x1="684.5" y1="1325.2" x2="668" y2="1349" stroke-width="3"/>
<text x="793.90" y="1310.55" font-size="30" textLength="86.68">2 BLK</text>
<text x="897.85" y="1310.55" font-size="30" textLength="48.61">451</text>
<circle cx="663.1" cy="1355.9" r="9.9" fill="#000" stroke="none"/>
<line x1="649.1" y1="1365.5" x2="676.8" y2="1365.5" stroke-width="3"/>
<line x1="653.3" y1="1371.1" x2="671.8" y2="1371.1" stroke-width="1.8"/>
<line x1="658.1" y1="1376" x2="666" y2="1376" stroke-width="1.8"/>
<text x="684.70" y="1367.25" font-size="30" textLength="77.32">G113</text>
</svg>
</body>
</html>
